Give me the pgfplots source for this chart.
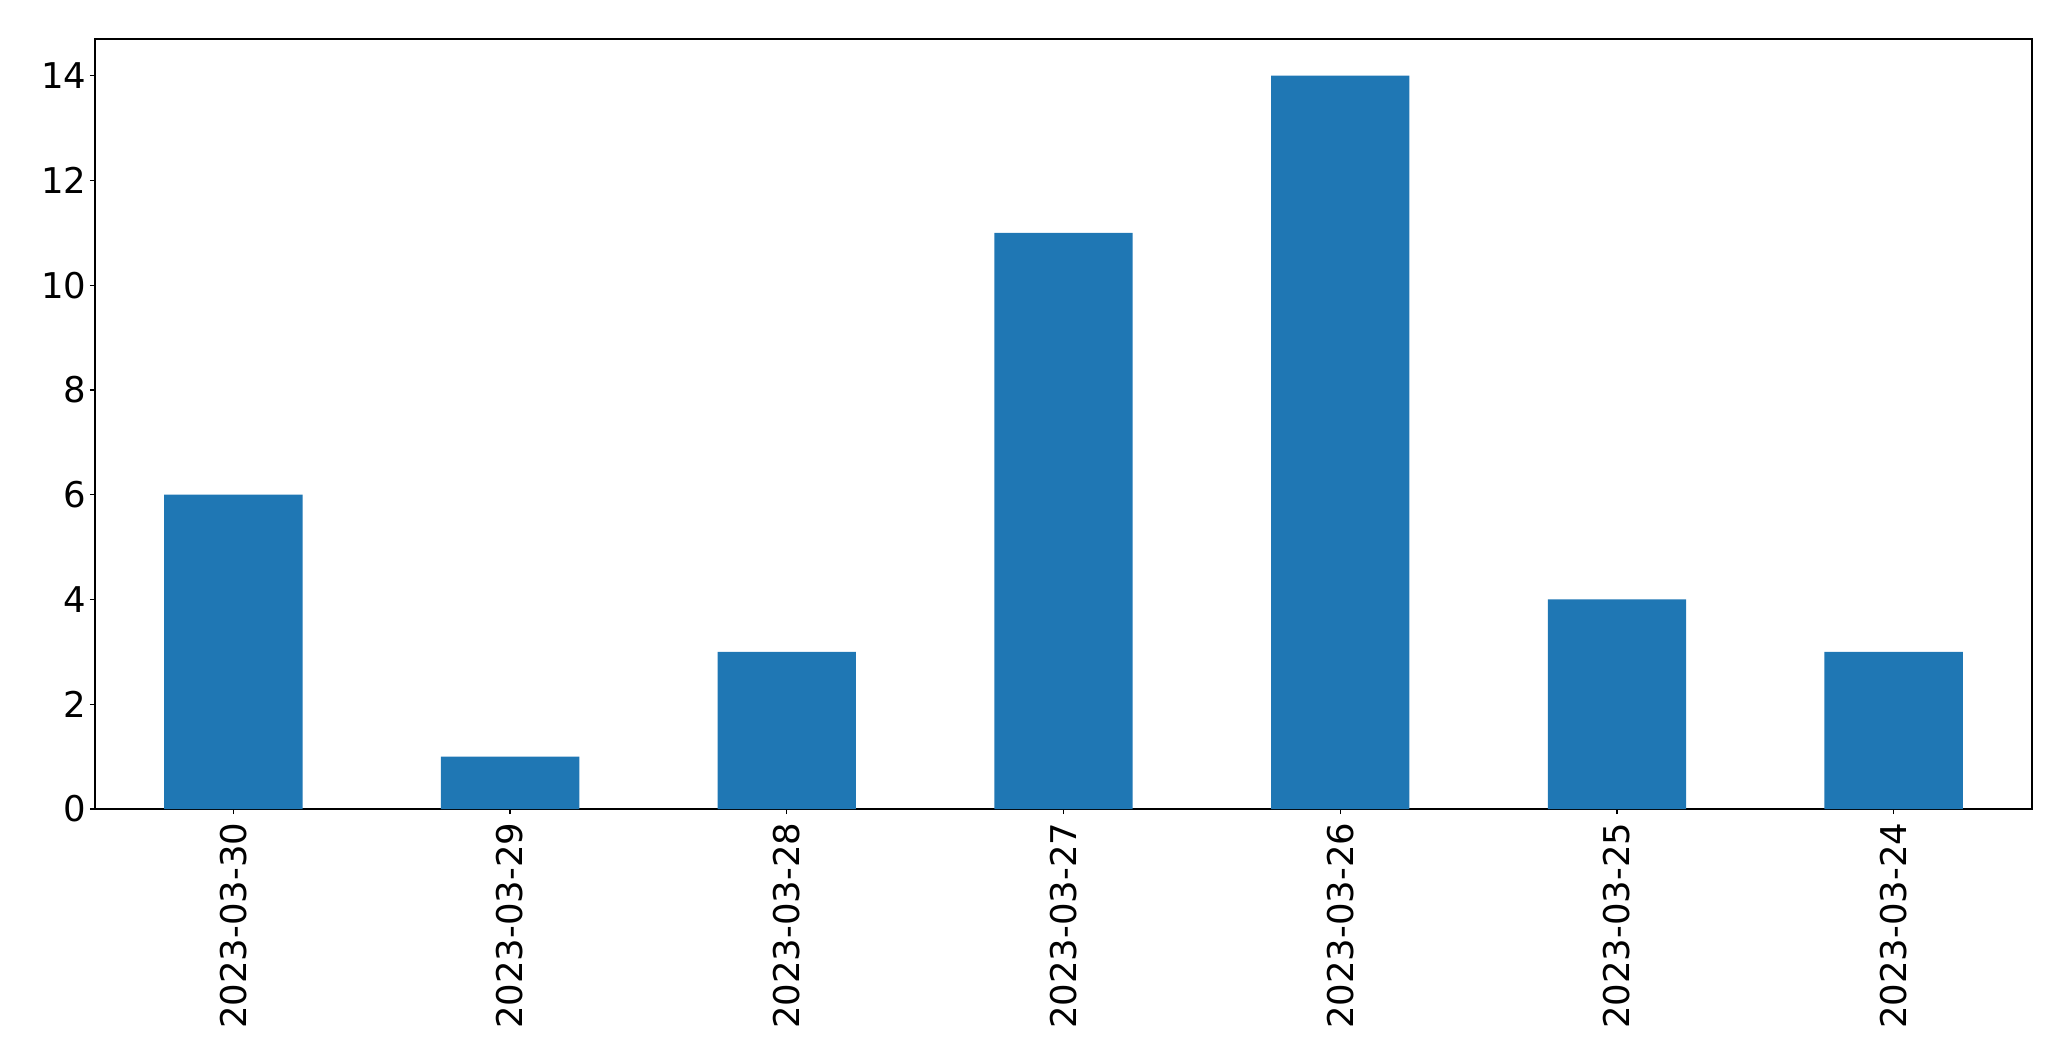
\documentclass[border=0pt]{standalone}
\usepackage{fontspec}
\setmainfont{DejaVu Sans}
\usepackage{pgfplots}
\pgfplotsset{compat=1.18}
\definecolor{mplblue}{HTML}{1F77B4}
\begin{document}
\begin{tikzpicture}
\useasboundingbox (-47.5bp,-126bp) rectangle (988bp,404.5bp);
\begin{axis}[
  at={(0,0)}, anchor=south west,
  scale only axis,
  width=968.5bp, height=385bp,
  xmin=-0.5, xmax=6.5, ymin=0, ymax=14.7,
  xtick={0,1,2,3,4,5,6},
  xticklabels={2023-03-30,2023-03-29,2023-03-28,2023-03-27,2023-03-26,2023-03-25,2023-03-24},
  ytick={0,2,4,6,8,10,12,14},
  xtick pos=left, ytick pos=left,
  tick align=outside,
  major tick length=2.5bp,
  axis line style={line width=0.6pt},
  every tick/.style={black, line width=0.6pt},
  tick label style={font=\fontsize{17.8}{21}\selectfont},
  /pgf/number format/assume math mode=true,
  xticklabel style={rotate=90, anchor=east, xshift=-0.8bp},
  yticklabel style={xshift=1.8bp},
  ]
  \addplot[ybar, bar width=0.5, fill=mplblue, draw=none] coordinates {
    (0,6) (1,1) (2,3) (3,11) (4,14) (5,4) (6,3)
  };
\end{axis}
\end{tikzpicture}
\end{document}
